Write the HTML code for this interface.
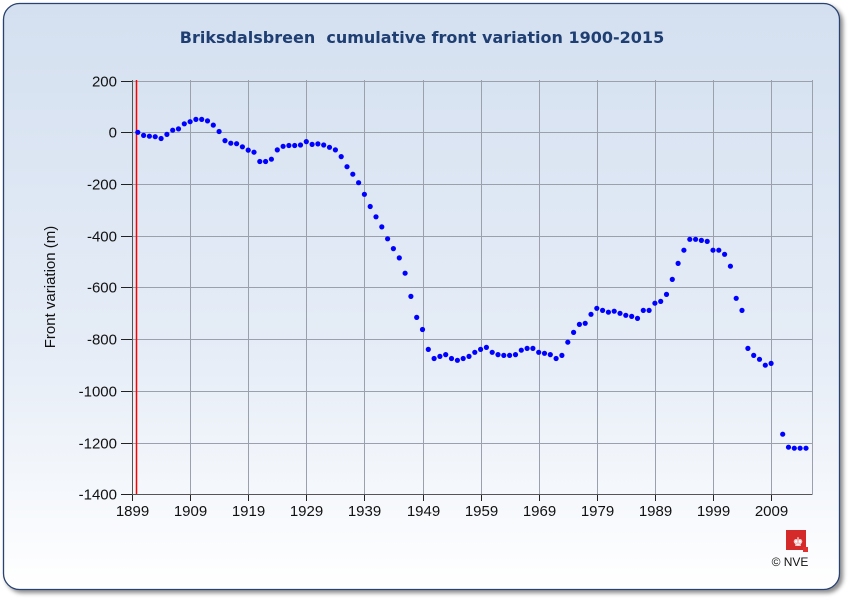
<!DOCTYPE html>
<html><head><meta charset="utf-8"><style>
html,body{margin:0;padding:0;background:#fff;width:850px;height:600px;overflow:hidden}
</style></head><body>
<svg id="s" width="850" height="600" xmlns="http://www.w3.org/2000/svg" font-family="Liberation Sans, sans-serif">
<defs>
<linearGradient id="bg" x1="0" y1="0" x2="0" y2="1">
<stop offset="0" stop-color="#d4e0f0"/><stop offset="0.6" stop-color="#e6edf7"/><stop offset="1" stop-color="#ffffff"/>
</linearGradient>
<filter id="sh" x="-5%" y="-5%" width="110%" height="110%"><feDropShadow dx="3" dy="3" stdDeviation="2" flood-color="#000" flood-opacity="0.45"/></filter>
</defs>
<rect x="3.5" y="3.5" width="836" height="586" rx="16" fill="url(#bg)" stroke="#2a4270" stroke-width="1.3" filter="url(#sh)"/>
<text x="422" y="43" text-anchor="middle" font-family="DejaVu Sans, sans-serif" font-weight="bold" font-size="16" fill="#1f3f73" xml:space="preserve" style="white-space:pre">Briksdalsbreen  cumulative front variation 1900-2015</text>
<g id="grid" stroke="#9aa0ac" stroke-width="1"></g>
<line x1="136.5" y1="80" x2="136.5" y2="494" stroke="#ff0000" stroke-width="1.5"/>
<g id="pts" fill="#0000ff"></g>
<g id="lab" font-size="15" fill="#111"></g>
<text transform="translate(55,287) rotate(-90)" text-anchor="middle" font-size="15" fill="#111">Front variation (m)</text>
<rect x="786" y="530" width="20" height="20" fill="#d42a2a"/>
<rect x="803" y="547" width="5" height="5" fill="#e03030"/>
<text x="798" y="546" text-anchor="middle" font-size="12" fill="#fff">♚</text>
<text x="790" y="566" text-anchor="middle" font-size="12" fill="#111">© NVE</text>
</svg>
<script>
var NS="http://www.w3.org/2000/svg";
function el(p,t,a,txt){var e=document.createElementNS(NS,t);for(var k in a)e.setAttribute(k,a[k]);if(txt!==undefined)e.textContent=txt;document.getElementById(p).appendChild(e);}
function X(y){return 132+(y-1899)*5.81;}
function Y(v){return 132.3-v*0.2585;}
var L=132,R=812.5,T=80,B=494;
for(var v=200;v>=-1400;v-=200){var y=Math.round(Y(v))+0.5;if(v==-1400)y=494.5;
el("grid","line",{x1:L,x2:R,y1:y,y2:y});el("grid","line",{x1:121,x2:L,y1:y,y2:y,stroke:"#222"});
el("lab","text",{x:117,y:y+5,"text-anchor":"end"},v);}
for(var yr=1899;yr<=2009;yr+=10){var x=Math.round(X(yr))+0.5;
el("grid","line",{x1:x,x2:x,y1:T,y2:B});el("grid","line",{x1:x,x2:x,y1:B,y2:B+7,stroke:"#222"});
el("lab","text",{x:x,y:516,"text-anchor":"middle"},yr);}
el("grid","line",{x1:R,x2:R,y1:T,y2:B});
el("grid","line",{x1:L+0.5,x2:L+0.5,y1:T,y2:B,stroke:"#555"});
el("grid","line",{x1:L,x2:R,y1:B+0.5,y2:B+0.5,stroke:"#555"});
var d=[0,-12,-15,-17,-24,-8,8,13,33,41,50,50,44,28,3,-32,-42,-44,-56,-69,-77,-113,-113,-104,-68,-54,-51,-51,-49,-36,-47,-45,-49,-58,-68,-94,-133,-162,-195,-240,-287,-327,-366,-412,-450,-486,-545,-635,-716,-763,-840,-875,-867,-860,-875,-882,-875,-867,-851,-840,-832,-851,-860,-863,-863,-860,-843,-836,-836,-851,-855,-860,-875,-863,-812,-774,-743,-739,-704,-681,-689,-696,-692,-700,-708,-712,-720,-689,-689,-661,-654,-627,-569,-507,-456,-414,-414,-418,-422,-456,-456,-472,-518,-642,-689,-836,-863,-878,-901,-894,null,-1168,-1218,-1222,-1222,-1222];
for(var i=0;i<d.length;i++){if(d[i]===null)continue;el("pts","circle",{cx:X(1900+i).toFixed(1),cy:Y(d[i]).toFixed(1),r:2.6});}
</script>
</body></html>
